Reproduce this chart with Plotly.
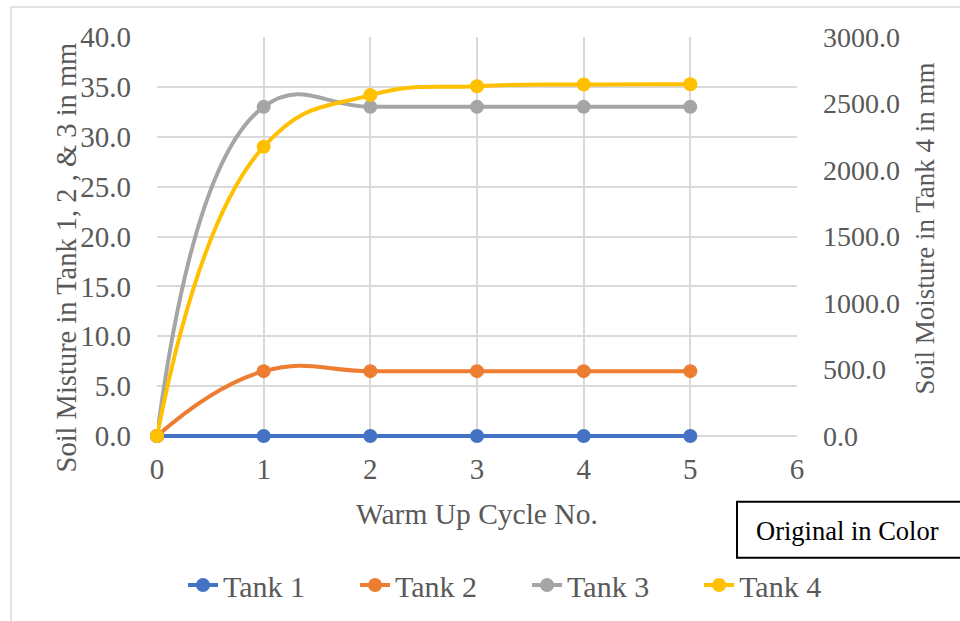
import plotly.graph_objects as go

cycles = [0, 1, 2, 3, 4, 5]
tank1 = [0.0, 0.0, 0.0, 0.0, 0.0, 0.0]
tank2 = [0.0, 6.5, 6.5, 6.5, 6.5, 6.5]
tank3 = [0.0, 33.0, 33.0, 33.0, 33.0, 33.0]
tank4 = [0.0, 2175.0, 2563.0, 2630.0, 2643.0, 2645.0]
series_names = ["Tank 1", "Tank 2", "Tank 3", "Tank 4"]

left_ticks = [0, 5, 10, 15, 20, 25, 30, 35, 40]
right_ticks = [0, 500, 1000, 1500, 2000, 2500, 3000]
x_ticks = [0, 1, 2, 3, 4, 5, 6]

colors = {"Tank 1": "#4472C4", "Tank 2": "#ED7D31", "Tank 3": "#A5A5A5", "Tank 4": "#FFC000"}
FONT = "Liberation Serif"
GREY = "#595959"

W, H = 960, 621
L, R, T, B = 157, 797, 37, 439
PAD = 0.2  # small pad below zero so the zero-value line is not clipped


def px(x):
    return (x - L) / (R - L)


def py(y):
    return (B - y) / (B - T)


fig = go.Figure()
for name, vals, axis in zip(series_names, [tank1, tank2, tank3, tank4], ["y", "y", "y", "y2"]):
    fig.add_trace(go.Scatter(
        x=cycles, y=vals, name=name + "\u00a0" * 6, yaxis=axis, mode="lines+markers",
        line=dict(color=colors[name], width=4, shape="spline", smoothing=1.3),
        marker=dict(color=colors[name], size=14), cliponaxis=False,
    ))

fig.update_layout(
    width=W, height=H,
    margin=dict(l=L, r=W - R, t=T, b=H - B),
    paper_bgcolor="white", plot_bgcolor="white",
    font=dict(family=FONT, color=GREY, size=29),
    showlegend=True,
    legend=dict(orientation="h", x=px(872), xanchor="right", y=py(585), yanchor="middle",
                font=dict(size=30, color=GREY), itemwidth=30, tracegroupgap=0,
                bgcolor="rgba(0,0,0,0)"),
    xaxis=dict(range=[0, 6], tickvals=x_ticks, ticktext=[str(v) for v in x_ticks],
               showgrid=True, gridcolor="#D9D9D9", gridwidth=1.5, zeroline=False,
               showline=False, ticks="", ticklabelstandoff=11,
               tickfont=dict(size=29, color=GREY)),
    yaxis=dict(range=[-PAD, 40], tickvals=left_ticks, ticktext=[f"{v:.1f}" for v in left_ticks],
               showgrid=True, gridcolor="#D9D9D9", gridwidth=1.5, zeroline=False,
               showline=False, ticks="", ticklabelstandoff=25,
               tickfont=dict(size=29, color=GREY)),
    yaxis2=dict(range=[-PAD * 75, 3000], tickvals=right_ticks,
                ticktext=[f"{v:.1f}" for v in right_ticks],
                overlaying="y", side="right", showgrid=False, zeroline=False,
                showline=False, ticks="", ticklabelstandoff=25,
                tickfont=dict(size=28, color=GREY)),
)

# axis titles
fig.add_annotation(text="Warm Up Cycle No.", xref="paper", yref="paper",
                   x=px(477), y=py(515), xanchor="center", yanchor="middle", showarrow=False,
                   font=dict(size=29.5, color=GREY, family=FONT))
fig.add_annotation(text="Soil Misture in Tank 1, 2 , & 3 in mm", xref="paper", yref="paper",
                   x=px(66), y=py(258), xanchor="center", yanchor="middle", showarrow=False,
                   textangle=-90, font=dict(size=28.5, color=GREY, family=FONT))
fig.add_annotation(text="Soil Moisture in Tank 4 in mm", xref="paper", yref="paper",
                   x=px(925), y=py(229), xanchor="center", yanchor="middle", showarrow=False,
                   textangle=-90, font=dict(size=27, color=GREY, family=FONT))

# outer chart frame
fig.add_shape(type="rect", xref="paper", yref="paper",
              x0=px(11), x1=px(970), y0=py(630), y1=py(7),
              line=dict(color="#D9D9D9", width=1.5), fillcolor="rgba(0,0,0,0)", layer="below")

# "Original in Color" box
fig.add_shape(type="rect", xref="paper", yref="paper",
              x0=px(737), x1=px(975), y0=py(559), y1=py(503),
              line=dict(color="black", width=2), fillcolor="white")
fig.add_annotation(text="Original in Color", xref="paper", yref="paper",
                   x=px(754), y=py(532), xanchor="left", yanchor="middle", showarrow=False,
                   font=dict(size=26.5, color="black", family=FONT))

fig.write_html("out.html")
